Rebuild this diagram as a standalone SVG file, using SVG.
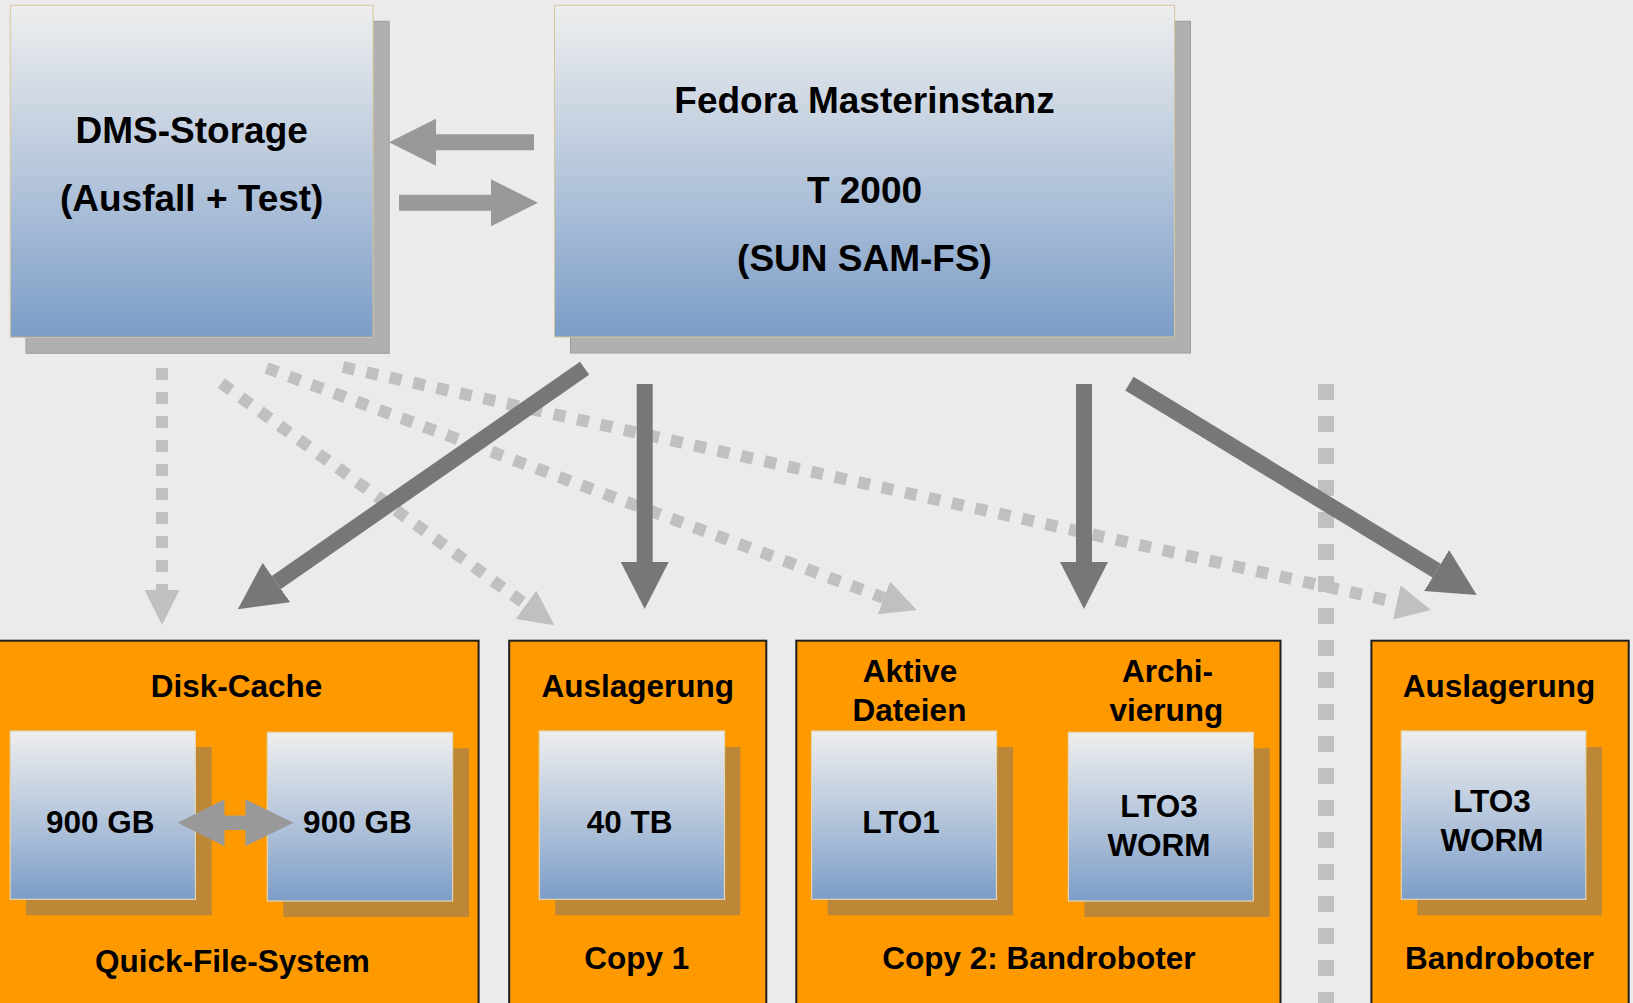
<svg xmlns="http://www.w3.org/2000/svg" width="1633" height="1003" viewBox="0 0 1633 1003">
<defs>
<linearGradient id="blue" x1="0" y1="0" x2="0" y2="1">
<stop offset="0" stop-color="#EEEEEE"/>
<stop offset="0.5" stop-color="#B7C7DC"/>
<stop offset="1" stop-color="#7C9DC7"/>
</linearGradient>
<marker id="hDark" markerUnits="userSpaceOnUse" markerWidth="47" markerHeight="48" viewBox="0 0 47 48" refX="0" refY="24" orient="auto">
<path d="M0,0 L47,24 L0,48 z" fill="#777777"/>
</marker>
<marker id="hLight" markerUnits="userSpaceOnUse" markerWidth="35" markerHeight="35" viewBox="0 0 35 35" refX="0" refY="17.5" orient="auto">
<path d="M0,0 L35,17.5 L0,35 z" fill="#C0C0C0"/>
</marker>
<marker id="hMid" markerUnits="userSpaceOnUse" markerWidth="47" markerHeight="47" viewBox="0 0 47 47" refX="0" refY="23.5" orient="auto">
<path d="M0,0 L47,23.5 L0,47 z" fill="#999999"/>
</marker>
</defs>
<style>
text{font-family:"Liberation Sans",Arial,sans-serif;font-weight:bold;fill:#000;text-anchor:middle}
.big{font-size:37px}
.sm{font-size:31.5px}
.bshadow{fill:#B0B0B0;stroke:#9E9E9E;stroke-width:1}
.bbox{fill:url(#blue);stroke:#D6C69C;stroke-width:1}
.ibox{fill:url(#blue);stroke:#E2D6B6;stroke-width:1.2}
.ishadow{fill:#BC8838}
.orange{fill:#FF9900;stroke:#1E1E1E;stroke-width:2}
.dark{stroke:#777777;stroke-width:16;fill:none;marker-end:url(#hDark)}
.dotted{stroke:#C0C0C0;stroke-width:12;fill:none;stroke-dasharray:12 12;marker-end:url(#hLight)}
.mid{stroke:#999999;stroke-width:16;fill:none;marker-end:url(#hMid)}
</style>
<rect x="0" y="0" width="1633" height="1003" fill="#EBEBEB"/>

<g id="dms-storage">
<rect class="bshadow" x="26" y="21.3" width="363.2" height="332"/>
<rect class="bbox" x="10.3" y="5.3" width="362.8" height="332"/>
<text class="big" x="191.7" y="143.3">DMS-Storage</text>
<text class="big" x="191.7" y="211">(Ausfall + Test)</text>
</g>

<g id="fedora">
<rect class="bshadow" x="570.5" y="21.3" width="620" height="331.7"/>
<rect class="bbox" x="554.5" y="5.3" width="620" height="331.7"/>
<text class="big" x="864.5" y="113.3">Fedora Masterinstanz</text>
<text class="big" x="864.5" y="202.7">T 2000</text>
<text class="big" x="864.5" y="270.7">(SUN SAM-FS)</text>
</g>

<g id="disk-cache">
<rect class="orange" x="-2" y="640.7" width="480.6" height="380"/>
<text class="sm" x="236.5" y="697.3">Disk-Cache</text>
<g id="disk1">
<rect class="ishadow" x="26" y="747" width="185.7" height="168.3"/>
<rect class="ibox" x="10.2" y="731" width="185.2" height="168.3"/>
<text class="sm" x="100.3" y="833.3">900 GB</text>
</g>
<g id="disk2">
<rect class="ishadow" x="283.3" y="748.3" width="185.6" height="168.7"/>
<rect class="ibox" x="267.3" y="732.3" width="185.3" height="168.7"/>
<text class="sm" x="357.4" y="833.3">900 GB</text>
</g>
<text class="sm" x="232.4" y="971.7">Quick-File-System</text>
</g>

<g id="copy1">
<rect class="orange" x="509.2" y="640.7" width="257.1" height="380"/>
<text class="sm" x="637.8" y="697.3">Auslagerung</text>
<g id="tb40">
<rect class="ishadow" x="555.3" y="747" width="185" height="168.3"/>
<rect class="ibox" x="539.3" y="731" width="185.2" height="168.3"/>
<text class="sm" x="629.6" y="833.3">40 TB</text>
</g>
<text class="sm" x="636.7" y="969.3">Copy 1</text>
</g>

<g id="copy2">
<rect class="orange" x="796.3" y="640.7" width="484.2" height="380"/>
<text class="sm" x="910" y="681.7">Aktive</text>
<text class="sm" x="909.5" y="720.7">Dateien</text>
<text class="sm" x="1167.6" y="681.7">Archi-</text>
<text class="sm" x="1166.3" y="720.7">vierung</text>
<g id="lto1">
<rect class="ishadow" x="827.6" y="747" width="185.3" height="168.3"/>
<rect class="ibox" x="811.6" y="731" width="184.9" height="168.3"/>
<text class="sm" x="901" y="833.3">LTO1</text>
</g>
<g id="lto3a">
<rect class="ishadow" x="1084.4" y="748.3" width="185.3" height="168.7"/>
<rect class="ibox" x="1068.4" y="732.3" width="184.9" height="168.7"/>
<text class="sm" x="1159" y="817.3">LTO3</text>
<text class="sm" x="1159" y="856">WORM</text>
</g>
<text class="sm" x="1038.8" y="969.3">Copy 2: Bandroboter</text>
</g>

<g id="bandroboter">
<rect class="orange" x="1371.4" y="640.7" width="257.3" height="380"/>
<text class="sm" x="1499" y="697.3">Auslagerung</text>
<g id="lto3b">
<rect class="ishadow" x="1417.3" y="747" width="184.7" height="168.3"/>
<rect class="ibox" x="1401.3" y="731" width="184.5" height="168.3"/>
<text class="sm" x="1492" y="812.3">LTO3</text>
<text class="sm" x="1492" y="851">WORM</text>
</g>
<text class="sm" x="1499.5" y="969.3">Bandroboter</text>
</g>

<g id="connectors">
<path class="mid" d="M534,142.2 L436,142.2"/>
<path class="mid" d="M399,202.8 L491,202.8"/>
<path d="M177.6,822.7 L224.5,799.2 L224.5,815.5 L245.4,815.5 L245.4,799.2 L293.4,822.7 L245.4,846.2 L245.4,830 L224.5,830 L224.5,846.2 z" fill="#999999"/>
<path class="dotted" d="M162,368 L162,590"/>
<path class="dotted" d="M221.4,383.2 L526,604.7"/>
<path class="dotted" d="M266.6,368 L883.9,597.8"/>
<path class="dotted" d="M342.9,367 L1396.8,602.4"/>
<path d="M1326,384 L1326,1003" stroke="#C0C0C0" stroke-width="16" stroke-dasharray="16 16" fill="none"/>
<path class="dark" d="M584.6,368.3 L276.4,582.5"/>
<path class="dark" d="M644.7,384 L644.7,562"/>
<path class="dark" d="M1084,384 L1084,562"/>
<path class="dark" d="M1129.4,383.7 L1436.6,570.6"/>
</g>
</svg>
